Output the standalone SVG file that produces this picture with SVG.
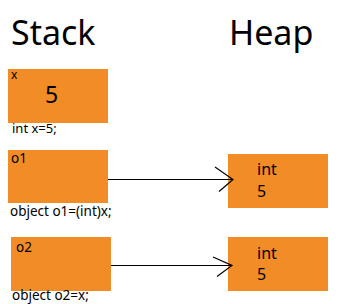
<svg xmlns="http://www.w3.org/2000/svg" width="345" height="304" viewBox="0 0 345 304">
<style>
text{font-family:"Noto Sans","Open Sans","DejaVu Sans",sans-serif;fill:#000}
.box{fill:#F18C27}
.title{font-size:34px}
.sm{font-size:12px}
.md{font-size:13.5px}
.hv{font-size:16px}
.ln{stroke:#000;stroke-width:1.2;fill:none}
</style>
<rect width="345" height="304" fill="#fff"/>
<g id="titles">
<text class="title" x="11" y="45">Stack</text>
<text class="title" x="229" y="45">Heap</text>
</g>
<g id="x">
<rect class="box" x="8" y="69" width="100" height="54"/>
<text class="sm" x="11" y="79">x</text>
<text x="45" y="103" style="font-size:23px">5</text>
<text class="sm" x="12" y="133" style="font-size:13px">int x=5;</text>
</g>
<g id="o1">
<rect class="box" x="8" y="150" width="100" height="53"/>
<text class="md" x="11" y="163">o1</text>
<text class="md" x="10" y="216">object o1=(int)x;</text>
</g>
<g id="o2">
<rect class="box" x="11" y="237" width="100" height="54"/>
<text class="md" x="16" y="252">o2</text>
<text class="md" x="12" y="300">object o2=x;</text>
</g>
<g id="heap1">
<rect class="box" x="228" y="154" width="100" height="54"/>
<text class="hv" x="257" y="175">int</text>
<text class="hv" x="257" y="197">5</text>
</g>
<g id="heap2">
<rect class="box" x="228" y="237" width="100" height="54"/>
<text class="hv" x="257" y="259">int</text>
<text class="hv" x="257" y="280">5</text>
</g>
<g id="connectors">
<path class="ln" d="M108 179.5H233M215 167L233 179.5L219 191.5"/>
<path class="ln" d="M111 265.5H232M213 257L232 265.5L217 276.5"/>
</g>
</svg>
